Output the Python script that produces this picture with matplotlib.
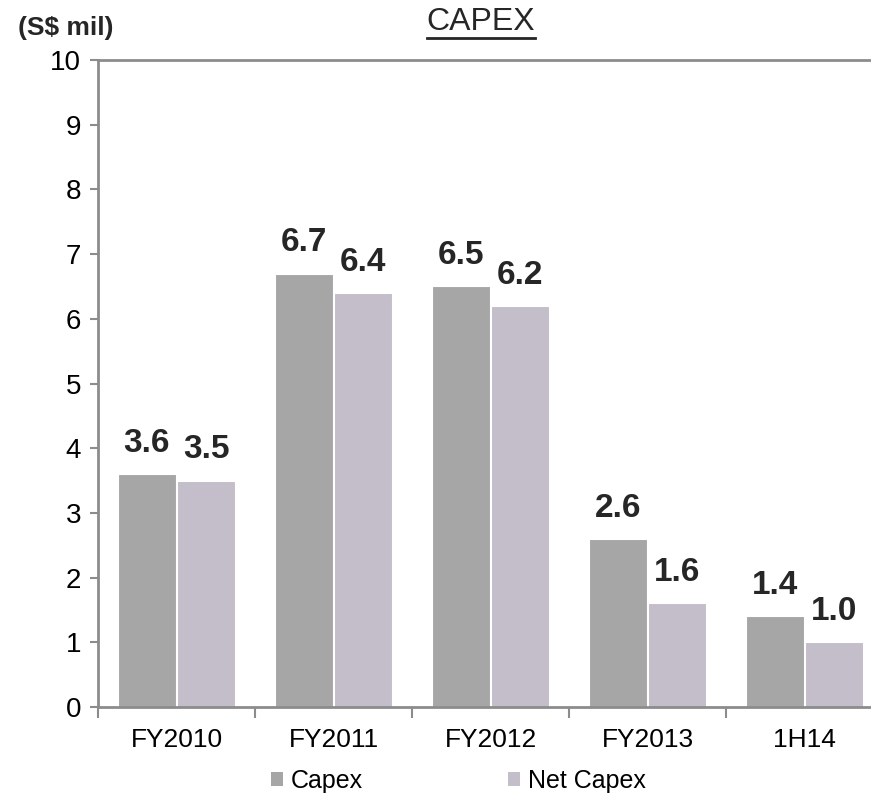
import matplotlib
matplotlib.use("Agg")
import matplotlib.pyplot as plt
import numpy as np
from matplotlib.lines import Line2D
from matplotlib.patches import Patch

plt.rcParams['font.family'] = ['Liberation Sans', 'DejaVu Sans']

categories = ["FY2010", "FY2011", "FY2012", "FY2013", "1H14"]
capex = [3.6, 6.7, 6.5, 2.6, 1.4]
net_capex = [3.5, 6.4, 6.2, 1.6, 1.0]
capex_labels = ["3.6", "6.7", "6.5", "2.6", "1.4"]
net_labels = ["3.5", "6.4", "6.2", "1.6", "1.0"]
series_names = ["Capex", "Net Capex"]

c_capex = "#A6A6A6"
c_net = "#C4BDCA"
spine_c = "#8C8C8C"

fig = plt.figure(figsize=(8.71, 8.0), dpi=100)
ax = fig.add_axes([98/871, 93/800, 785/871, 647/800])

x = np.arange(len(categories))
w = 0.37
off = 0.19
ax.bar(x - off, capex, w, color=c_capex, edgecolor="white", linewidth=0.8)
ax.bar(x + off, net_capex, w, color=c_net, edgecolor="white", linewidth=0.8)

for xi, v, t in zip(x, capex, capex_labels):
    ax.annotate(t, (xi - off, v), xytext=(0, 11), textcoords="offset points",
                ha="center", va="bottom", fontsize=24, fontweight="bold", color="#262626")
for xi, v, t in zip(x, net_capex, net_labels):
    ax.annotate(t, (xi + off, v), xytext=(0, 11), textcoords="offset points",
                ha="center", va="bottom", fontsize=24, fontweight="bold", color="#262626")

ax.set_xlim(-0.5, len(categories) - 0.5)
ax.set_ylim(0, 10)
ax.set_yticks(range(0, 11))
ax.tick_params(axis="y", labelsize=20, length=6, width=1.5, color=spine_c, pad=6, labelcolor="black")
ax.set_xticks(np.arange(len(categories) + 1) - 0.5)
ax.set_xticklabels([])
ax.set_xticks(x, minor=True)
ax.set_xticklabels(categories, minor=True)
ax.tick_params(axis="x", which="major", length=8, width=1.5, color=spine_c, direction="out")
ax.tick_params(axis="x", which="minor", length=0, labelsize=19, pad=15, labelcolor="black")

for s in ["left", "bottom", "top"]:
    ax.spines[s].set_color(spine_c)
    ax.spines[s].set_linewidth(2)
ax.spines["right"].set_visible(False)

fig.text(18/871, 1 - 28/800, "(S$ mil)", fontsize=19, fontweight="bold",
         color="#262626", ha="left", va="center")
title = fig.text(481/871, 1 - 22/800, "CAPEX", fontsize=23, color="#262626",
                 ha="center", va="center")

fig.canvas.draw()
bb = title.get_window_extent(fig.canvas.get_renderer())
yline = (bb.y0 - 1) / 800
fig.add_artist(Line2D([bb.x0 / 871, bb.x1 / 871], [yline, yline],
                      transform=fig.transFigure, color="#262626", linewidth=2))

handles = [Patch(facecolor=c_capex), Patch(facecolor=c_net)]
fig.legend(handles, series_names, loc="center", bbox_to_anchor=(458/871, 1 - 781/800),
           ncol=2, frameon=False, fontsize=18, handlelength=0.5, handleheight=0.5,
           handletextpad=0.3, columnspacing=5.8)

fig.savefig("out.png", dpi=100)
